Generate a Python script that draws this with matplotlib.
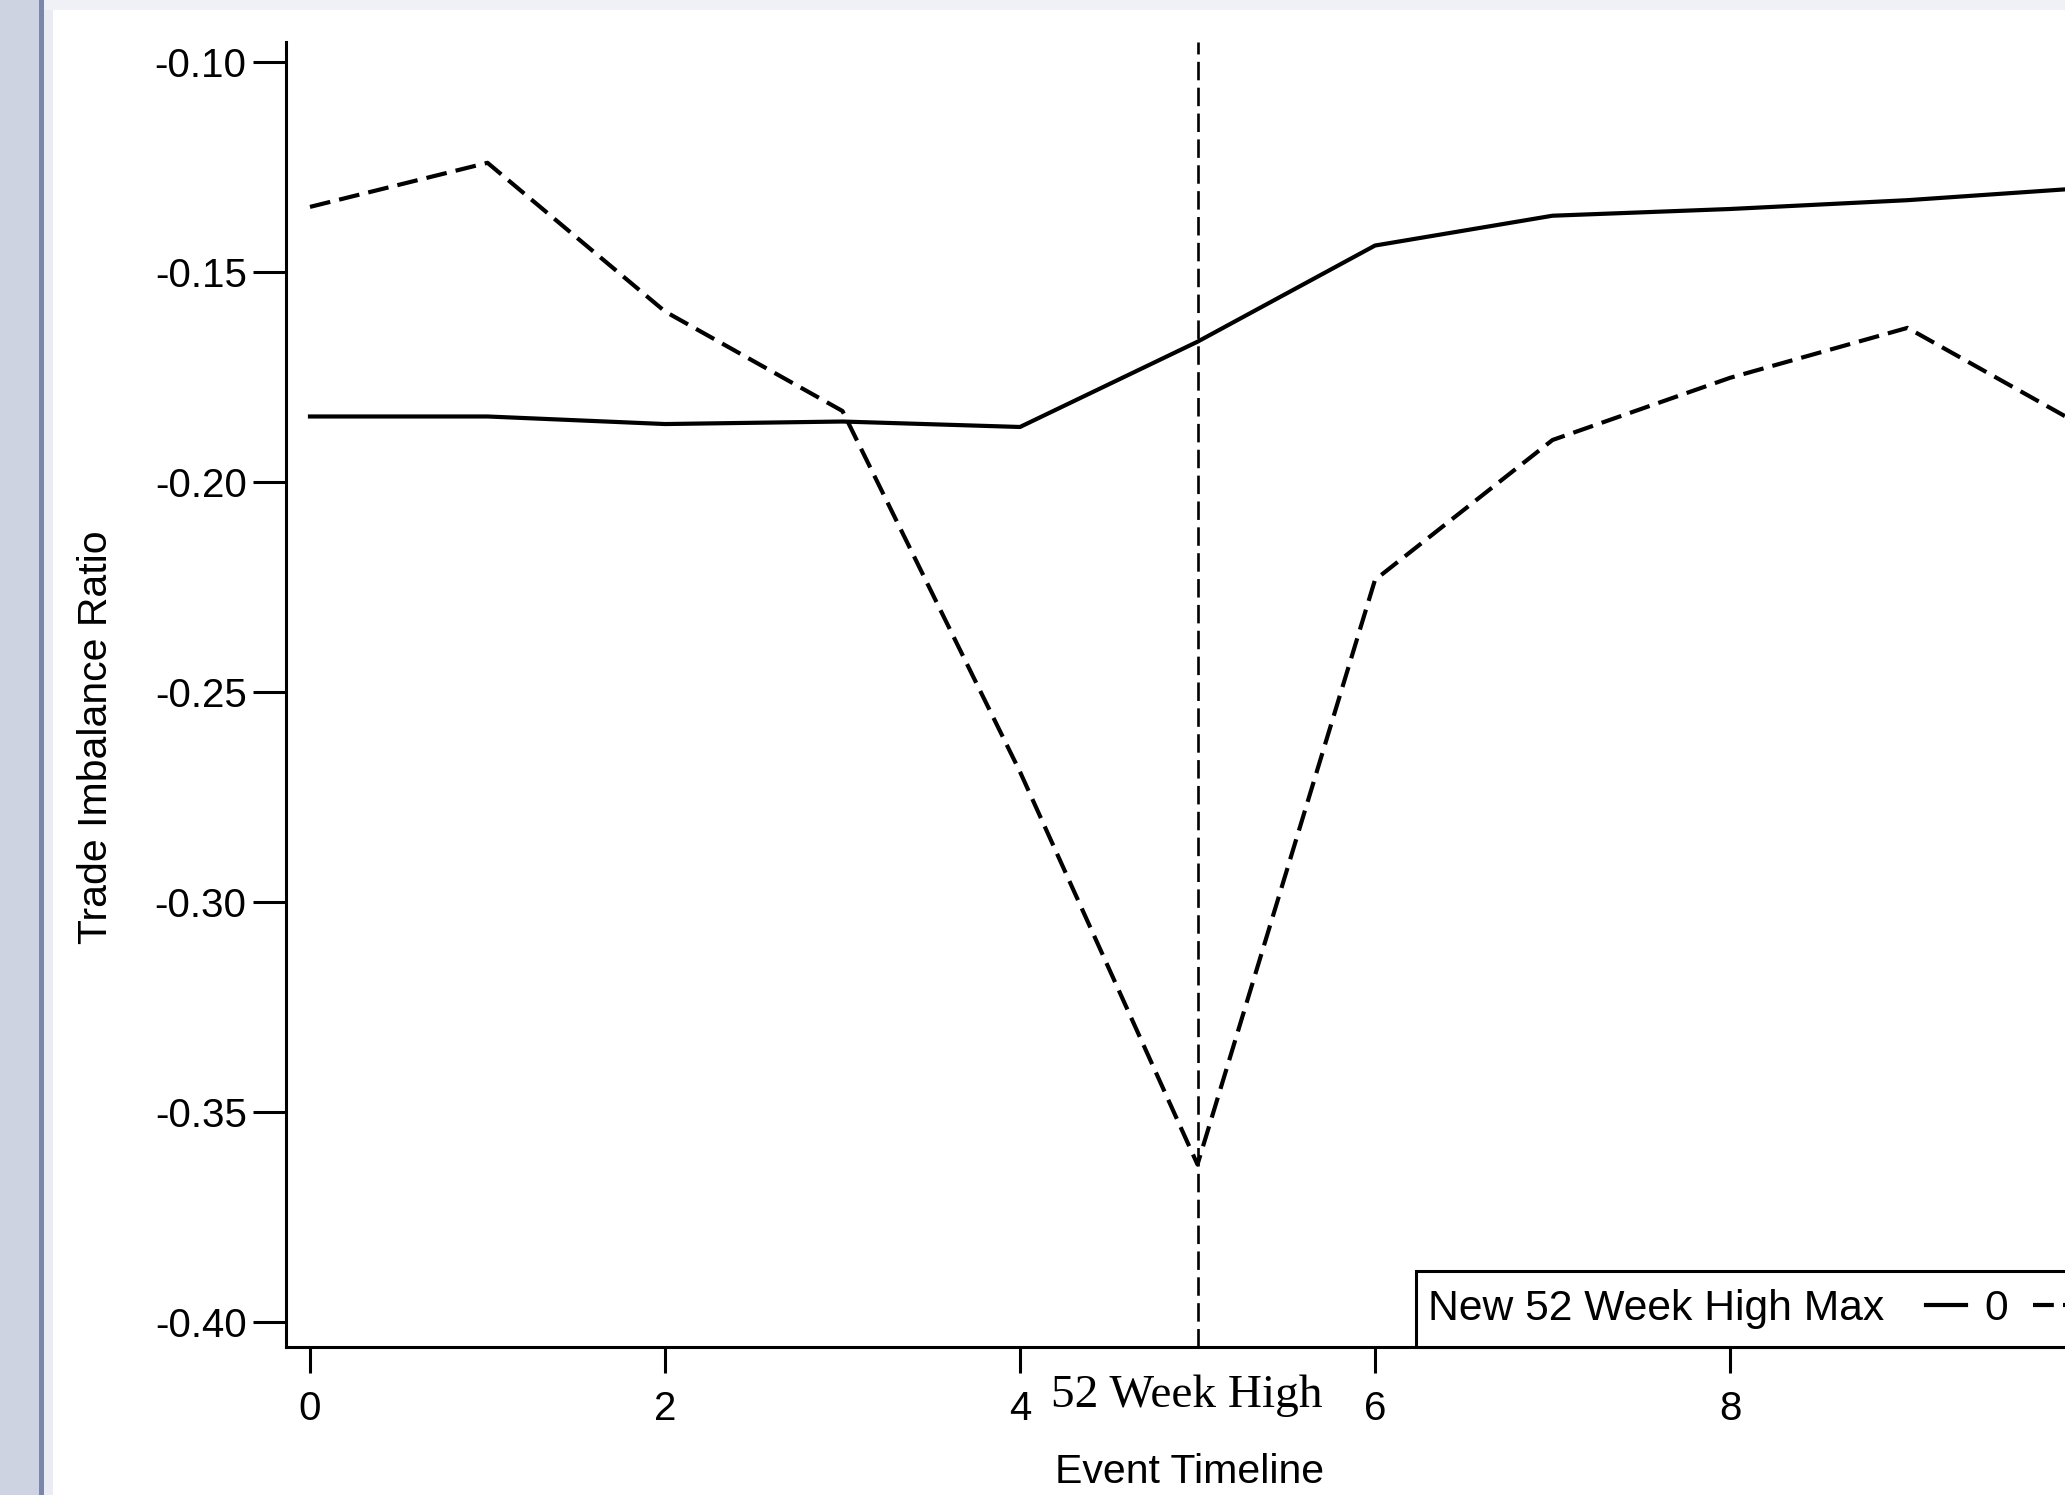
import numpy as np
import matplotlib.pyplot as plt
from matplotlib.lines import Line2D
from matplotlib.patches import Rectangle
from matplotlib.transforms import blended_transform_factory

plt.rcParams['font.family'] = ['Liberation Sans', 'DejaVu Sans']
plt.rcParams['axes.unicode_minus'] = False

# ---------------------------------------------------------------------------------
# Data
# ---------------------------------------------------------------------------------
event_time = np.arange(0, 11)
# New 52 Week High Max = 0 (solid)
imbalance_0 = [-0.1844, -0.1844, -0.1862, -0.1856, -0.1869, -0.1666,
               -0.1437, -0.1366, -0.1350, -0.1329, -0.1300]
# New 52 Week High Max = 1 (dashed)
imbalance_1 = [-0.1345, -0.1240, -0.1594, -0.1831, -0.2690, -0.3625,
               -0.2233, -0.1900, -0.1752, -0.1633, -0.1870]
group_labels = ['0', '1']
legend_title = 'New 52 Week High Max'
event_day = 5
event_label = '52 Week High'
y_ticks = [-0.10, -0.15, -0.20, -0.25, -0.30, -0.35, -0.40]
x_ticks = [0, 2, 4, 6, 8]

# ---------------------------------------------------------------------------------
# Figure (pixel layout of the screenshot)
# ---------------------------------------------------------------------------------
W, H = 2065, 1495
fig = plt.figure(figsize=(W / 100, H / 100), dpi=100)


def frac(x0, y0, x1, y1):
    """pixel box (top-left origin) -> figure fraction [l, b, w, h]"""
    return [x0 / W, 1 - y1 / H, (x1 - x0) / W, (y1 - y0) / H]


# window frame bits on the left / top of the screenshot
for box, col in [((0, 0, 39, H), '#cdd3e0'),
                 ((39, 0, 44, H), '#7a87a8'),
                 ((44, 0, 53, H), '#e9ecf4'),
                 ((44, 0, W, 10), '#eff1f6')]:
    l, b, w, h = frac(*box)
    fig.patches.append(Rectangle((l, b), w, h, transform=fig.transFigure,
                                 facecolor=col, edgecolor='none', zorder=0))

ax_left, ax_right, ax_top, ax_bottom = 286, 2300, 42, 1347
ax = fig.add_axes(frac(ax_left, ax_top, ax_right, ax_bottom))

px_per_x = 177.5
ax.set_xlim(-(310 - ax_left) / px_per_x, (ax_right - 310) / px_per_x)
ax.set_ylim(-0.40 - 25 / 4200, -0.10 + 20 / 4200)

ax.plot(event_time, imbalance_0, color='black', lw=3.0)
ax.plot(event_time, imbalance_1, color='black', lw=3.0, dashes=(5, 2.2))
ax.axvline(event_day, color='black', lw=1.9, dashes=(7, 2.8))

for s in ['top', 'right']:
    ax.spines[s].set_visible(False)
for s in ['left', 'bottom']:
    ax.spines[s].set_linewidth(2.2)

ax.set_yticks(y_ticks)
ax.set_yticklabels([f'{v:.2f}' for v in y_ticks])
ax.set_xticks(x_ticks)
ax.tick_params(axis='y', length=24, width=2.2, pad=4.3, labelsize=29)
ax.tick_params(axis='x', length=18.7, width=2.2, pad=12, labelsize=29)

ax.set_ylabel('Trade Imbalance Ratio', fontsize=29.5)
ax.yaxis.set_label_coords((96 - ax_left) / 2014, (ax_bottom - 737) / 1305)
ax.yaxis.label.set_verticalalignment('center')
ax.set_xlabel('Event Timeline', fontsize=29.5)
ax.xaxis.set_label_coords((1190 - ax_left) / 2014, (ax_bottom - 1472) / 1305)
ax.xaxis.label.set_verticalalignment('center')

# label under the event line
trans = blended_transform_factory(ax.transData, ax.transAxes)
ax.text(event_day - 0.06, (ax_bottom - 1407) / 1305, event_label,
        transform=trans, ha='center', va='baseline', fontsize=34,
        family=['Liberation Serif', 'DejaVu Serif'], clip_on=False)

# Stata-style legend: title on the left, keys in one row, boxed
leg_y = (ax_bottom - 1309) / 1305
ax.add_patch(Rectangle(((1416 - ax_left) / 2014, 0), 0.6, (ax_bottom - 1271) / 1305,
                       transform=ax.transAxes, facecolor='white', edgecolor='black',
                       lw=2.2, clip_on=False, zorder=5))
ax.text((1428 - ax_left) / 2014, leg_y, legend_title, transform=ax.transAxes,
        ha='left', va='center', fontsize=30.7, zorder=6)
handles = [Line2D([], [], color='black', lw=3.0),
           Line2D([], [], color='black', lw=3.0, dashes=(5, 2.2))]
leg = ax.legend(handles, group_labels, ncol=2, frameon=False, fontsize=30.7,
                loc='center left', bbox_to_anchor=((1926 - ax_left) / 2014, leg_y),
                borderpad=0, borderaxespad=0, handlelength=0.94,
                handletextpad=0.42, columnspacing=0.6)
leg.set_zorder(7)

fig.savefig('out.png', dpi=100)
